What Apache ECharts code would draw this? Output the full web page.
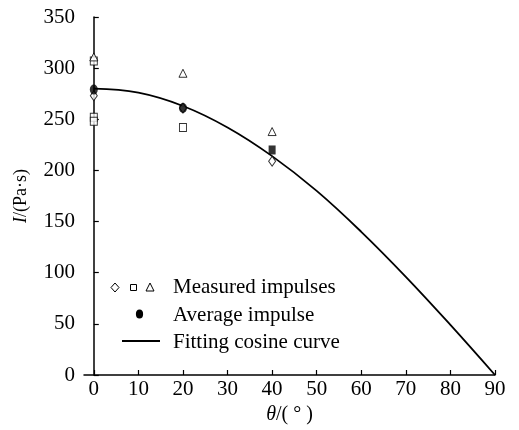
<!DOCTYPE html>
<html><head><meta charset="utf-8">
<script src="https://cdn.jsdelivr.net/npm/echarts@6/dist/echarts.min.js"></script>
<style>html,body{margin:0;padding:0;background:#fff}#c{width:519px;height:430px}</style>
</head><body><div id="c"></div>
<script>
// Data
const xTicks = [0,10,20,30,40,50,60,70,80,90];
const yTicks = [0,50,100,150,200,250,300,350];
const diamondPts = [[0,273],[20,261],[40,209]];
const squarePts = [[0,307],[0,252],[0,248],[20,242]];
const trianglePts = [[0,311],[20,295],[40,238]];
const averagePts = [[0,279],[20,261],[40,220]];
const curveAngles = [0,10,20,30,40,50,60,70,80,90];
const curveValues = [280,276,263,242,214,180,140,96,49,0];
const legendLabels = ['Measured impulses','Average impulse','Fitting cosine curve'];

const FONT = '"Liberation Serif","Times New Roman",serif';
const chart = echarts.init(document.getElementById('c'));
const mk = (name, symbol, data, size) => ({
  name, type:'scatter', data, symbol, symbolSize:size,
  itemStyle:{color:'#fff', borderColor:'#000', borderWidth:1},
  z:5, silent:true
});
chart.setOption({
  animation:false,
  backgroundColor:'#fff',
  grid:{left:84, top:17, right:24, bottom:55},
  xAxis:{
    type:'value', min:-2.2, max:90,
    axisLine:{lineStyle:{color:'#000', width:1.5}},
    axisTick:{inside:true, length:5, lineStyle:{color:'#000', width:1.2}, customValues:xTicks},
    axisLabel:{customValues:xTicks, color:'#000', fontFamily:FONT, fontSize:21, margin:4},
    splitLine:{show:false},
    name:'{i|θ}/( ° )', nameLocation:'middle', nameGap:25,
    nameTextStyle:{color:'#000', fontFamily:FONT, fontSize:20,
      rich:{i:{fontStyle:'italic', fontFamily:FONT, fontSize:20, color:'#000'}}}
  },
  yAxis:{
    type:'value', min:0, max:350,
    axisLine:{show:true, lineStyle:{color:'#000', width:1.5}},
    axisTick:{show:true, inside:true, length:5, lineStyle:{color:'#000', width:1.2}, customValues:yTicks},
    axisLabel:{customValues:yTicks, color:'#000', fontFamily:FONT, fontSize:21, margin:9},
    splitLine:{show:false},
    name:'{i|I}/(Pa·s)', nameLocation:'middle', nameGap:54,
    nameTextStyle:{color:'#000', fontFamily:FONT, fontSize:18,
      rich:{i:{fontStyle:'italic', fontFamily:FONT, fontSize:18, color:'#000'}}}
  },
  series:[
    {name:'curve', type:'line', data:curveAngles.map((a,i)=>[a,curveValues[i]]),
     smooth:0.4, showSymbol:false, lineStyle:{color:'#000', width:1.8}, z:3, silent:true},
    mk('diamond','diamond',diamondPts,[7,10]),
    mk('square','rect',squarePts,[7,8]),
    mk('triangle','triangle',trianglePts,[8,8]),
    {name:'avg', type:'scatter', data:averagePts.map((p,i)=> i===2 ? {value:p, symbol:'rect', symbolSize:[7,9]} : {value:p}),
     symbol:'circle', symbolSize:[8,10], itemStyle:{color:'#000'}, z:6, silent:true}
  ],
  graphic:[
    {type:'polygon', shape:{points:[[115,283],[119,287.5],[115,292],[111,287.5]]}, style:{fill:'#fff', stroke:'#000', lineWidth:1}},
    {type:'rect', shape:{x:130.5, y:284.5, width:6, height:6}, style:{fill:'#fff', stroke:'#000', lineWidth:1}},
    {type:'polygon', shape:{points:[[150,283],[154,291],[146,291]]}, style:{fill:'#fff', stroke:'#000', lineWidth:1}},
    {type:'circle', x:139.5, y:314, scaleY:1.25, shape:{cx:0, cy:0, r:3.6}, style:{fill:'#000'}},
    {type:'line', shape:{x1:122, y1:341, x2:160, y2:341}, style:{stroke:'#000', lineWidth:1.8}},
    {type:'text', x:173, y:287, style:{text:legendLabels[0], font:'21px '+FONT, fill:'#000', verticalAlign:'middle'}},
    {type:'text', x:173, y:315, style:{text:legendLabels[1], font:'21px '+FONT, fill:'#000', verticalAlign:'middle'}},
    {type:'text', x:173, y:342, style:{text:legendLabels[2], font:'21px '+FONT, fill:'#000', verticalAlign:'middle'}}
  ]
});
</script></body></html>
